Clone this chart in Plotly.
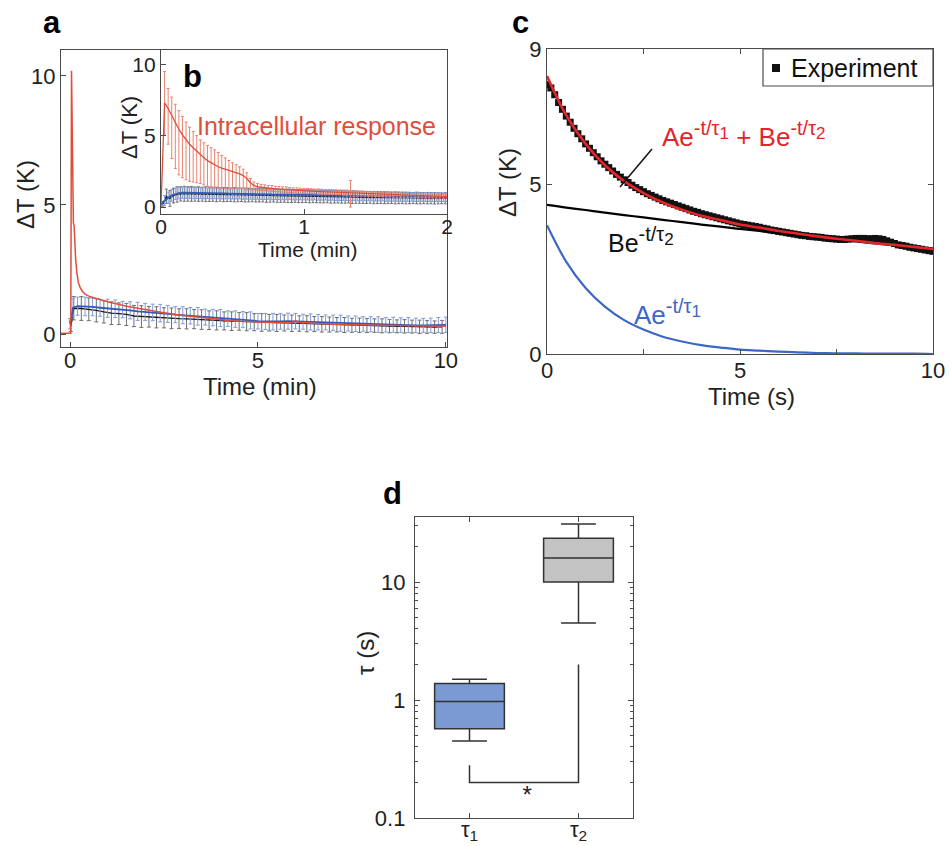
import numpy as np
import plotly.graph_objects as go

FONT = "Liberation Sans, Arial, Helvetica, sans-serif"
W, H = 951, 846

# ---------------- panel a : full 10-min recording ----------------
red_a_t = [-0.24, 0.02, 0.04, 0.07, 0.09, 0.11, 0.13, 0.15, 0.18, 0.22,
           0.27, 0.33, 0.4, 0.5, 0.7, 1.0, 1.5, 2.0, 2.5, 3.0,
           3.5, 4.0, 4.5, 5.0, 5.5, 5.9, 6.0, 6.1, 6.5, 7.0,
           7.5, 8.0, 8.5, 9.0, 9.5, 10.0]
red_a_v = [0.03, 0.03, 10.2, 6.0, 4.3, 4.2, 3.4, 2.9, 2.4, 2.0,
           1.8, 1.65, 1.55, 1.47, 1.38, 1.25, 1.08, 0.95, 0.83, 0.72,
           0.63, 0.56, 0.50, 0.46, 0.44, 0.44, 0.52, 0.45, 0.41, 0.38,
           0.36, 0.35, 0.33, 0.32, 0.31, 0.30]

blue_a_t = [0.0, 0.08] + [round(v, 2) for v in np.arange(0.2, 10.01, 0.2)]
blue_a_v = [0.40, 1.02, 1.08, 1.07, 1.05, 1.02, 1.00, 0.98, 0.95, 0.92,
            0.88, 0.86, 0.84, 0.81, 0.78, 0.75, 0.73, 0.71, 0.69, 0.66,
            0.64, 0.62, 0.60, 0.58, 0.56, 0.53, 0.50, 0.49, 0.48, 0.49,
            0.50, 0.50, 0.48, 0.47, 0.46, 0.45, 0.44, 0.42, 0.41, 0.40,
            0.39, 0.38, 0.37, 0.36, 0.36, 0.35, 0.35, 0.34, 0.34, 0.34,
            0.35, 0.36]
blue_a_err = [0.20, 0.35, 0.35, 0.36, 0.34, 0.33, 0.35, 0.34, 0.32, 0.33,
              0.35, 0.33, 0.32, 0.34, 0.33, 0.31, 0.33, 0.32, 0.34, 0.31,
              0.32, 0.33, 0.30, 0.32, 0.31, 0.33, 0.30, 0.31, 0.32, 0.30,
              0.31, 0.30, 0.29, 0.31, 0.30, 0.29, 0.30, 0.31, 0.29, 0.30,
              0.28, 0.29, 0.30, 0.28, 0.29, 0.28, 0.29, 0.28, 0.27, 0.28,
              0.29, 0.30]

black_a_t = [0.02] + [round(v, 2) for v in np.arange(0.1, 9.95, 0.2)]
black_a_v = [0.30, 1.00, 0.99, 0.96, 0.92, 0.86, 0.81, 0.79, 0.76, 0.70,
             0.68, 0.67, 0.65, 0.63, 0.61, 0.60, 0.59, 0.58, 0.56, 0.54,
             0.53, 0.51, 0.50, 0.49, 0.48, 0.46, 0.45, 0.44, 0.43, 0.43,
             0.42, 0.41, 0.40, 0.39, 0.38, 0.37, 0.36, 0.35, 0.34, 0.34,
             0.33, 0.33, 0.32, 0.31, 0.30, 0.30, 0.29, 0.28, 0.28, 0.27,
             0.28]
black_a_err = [0.20, 0.45, 0.46, 0.44, 0.45, 0.43, 0.44, 0.42, 0.43, 0.41,
               0.42, 0.40, 0.41, 0.39, 0.40, 0.38, 0.39, 0.37, 0.38, 0.36,
               0.37, 0.35, 0.36, 0.34, 0.35, 0.33, 0.34, 0.32, 0.33, 0.31,
               0.32, 0.30, 0.31, 0.29, 0.30, 0.29, 0.28, 0.29, 0.27, 0.28,
               0.27, 0.26, 0.27, 0.26, 0.25, 0.26, 0.25, 0.26, 0.25, 0.24,
               0.25]

# ---------------- panel b : first two minutes ----------------
b_t = [round(v, 4) for v in np.arange(0.0, 2.0001, 0.025)]
red_b_v = [0.00, 7.30, 6.90, 6.40, 5.90, 5.45, 5.05, 4.70, 4.40, 4.15,
           3.90, 3.65, 3.45, 3.25, 3.10, 2.95, 2.82, 2.72, 2.64, 2.56,
           2.50, 2.42, 2.32, 2.20, 2.00, 1.70, 1.50, 1.42, 1.38, 1.35,
           1.32, 1.30, 1.27, 1.25, 1.23, 1.21, 1.19, 1.17, 1.15, 1.14,
           1.13, 1.12, 1.11, 1.10, 1.09, 1.08, 1.07, 1.06, 1.05, 1.04,
           1.03, 1.01, 0.99, 0.96, 0.95, 0.94, 0.93, 0.92, 0.91, 0.90,
           0.89, 0.88, 0.87, 0.86, 0.85, 0.84, 0.83, 0.83, 0.82, 0.81,
           0.80, 0.80, 0.79, 0.78, 0.77, 0.77, 0.76, 0.75, 0.75, 0.74,
           0.73]
red_b_up = [0.00, 2.20, 1.40, 1.30, 1.30, 1.30, 1.30, 1.25, 1.20, 1.15,
            1.10, 1.05, 1.05, 1.05, 1.05, 1.05, 1.00, 0.90, 0.80, 0.70,
            0.60, 0.55, 0.50, 0.45, 0.40, 0.30, 0.25, 0.22, 0.20, 0.20,
            0.19, 0.20, 0.18, 0.19, 0.18, 0.20, 0.18, 0.17, 0.19, 0.18,
            0.17, 0.18, 0.17, 0.16, 0.18, 0.17, 0.16, 0.17, 0.16, 0.17,
            0.16, 0.18, 0.20, 0.90, 0.20, 0.17, 0.16, 0.15, 0.16, 0.15,
            0.16, 0.15, 0.14, 0.15, 0.14, 0.15, 0.14, 0.15, 0.14, 0.13,
            0.14, 0.13, 0.14, 0.13, 0.14, 0.13, 0.12, 0.13, 0.12, 0.13,
            0.12]
red_b_dn = [0.00, 2.20, 2.50, 3.00, 3.20, 3.20, 3.00, 2.80, 2.60, 2.40,
            2.20, 2.00, 1.90, 1.80, 1.70, 1.60, 1.50, 1.40, 1.35, 1.30,
            1.20, 1.10, 1.00, 0.90, 0.80, 0.50, 0.30, 0.25, 0.22, 0.20,
            0.19, 0.20, 0.18, 0.19, 0.18, 0.20, 0.18, 0.17, 0.19, 0.18,
            0.17, 0.18, 0.17, 0.16, 0.18, 0.17, 0.16, 0.17, 0.16, 0.17,
            0.16, 0.18, 0.20, 0.96, 0.20, 0.17, 0.16, 0.15, 0.16, 0.15,
            0.16, 0.15, 0.14, 0.15, 0.14, 0.15, 0.14, 0.15, 0.14, 0.13,
            0.14, 0.13, 0.14, 0.13, 0.14, 0.13, 0.12, 0.13, 0.12, 0.13,
            0.12]
blue_b_v = [0.20, 0.45, 0.65, 0.82, 0.92, 0.98, 1.00, 1.00, 0.99, 0.98,
            0.98, 0.97, 0.97, 0.96, 0.96, 0.96, 0.95, 0.95, 0.95, 0.94,
            0.94, 0.93, 0.93, 0.92, 0.92, 0.91, 0.91, 0.90, 0.90, 0.89,
            0.89, 0.88, 0.88, 0.87, 0.87, 0.86, 0.86, 0.86, 0.85, 0.85,
            0.85, 0.84, 0.84, 0.83, 0.83, 0.82, 0.82, 0.81, 0.81, 0.80,
            0.80, 0.79, 0.79, 0.78, 0.78, 0.77, 0.77, 0.76, 0.76, 0.75,
            0.75, 0.74, 0.74, 0.73, 0.73, 0.72, 0.72, 0.72, 0.71, 0.71,
            0.71, 0.70, 0.70, 0.70, 0.70, 0.69, 0.69, 0.69, 0.69, 0.68,
            0.68]
blue_b_err = [0.20, 0.35, 0.40, 0.42, 0.40, 0.41, 0.39, 0.40, 0.38, 0.40,
              0.39, 0.38, 0.40, 0.37, 0.39, 0.38, 0.37, 0.39, 0.38, 0.36,
              0.38, 0.37, 0.36, 0.38, 0.37, 0.36, 0.37, 0.35, 0.37, 0.36,
              0.35, 0.37, 0.36, 0.35, 0.36, 0.35, 0.34, 0.36, 0.35, 0.34,
              0.35, 0.34, 0.35, 0.33, 0.35, 0.34, 0.33, 0.34, 0.33, 0.35,
              0.34, 0.33, 0.34, 0.33, 0.32, 0.34, 0.33, 0.32, 0.33, 0.32,
              0.33, 0.32, 0.31, 0.33, 0.32, 0.31, 0.32, 0.31, 0.32, 0.31,
              0.30, 0.31, 0.32, 0.30, 0.31, 0.30, 0.31, 0.30, 0.31, 0.30,
              0.30]
black_b_t = [round(v + 0.0125, 4) for v in b_t]
black_b_v = [0.20, 0.75, 0.60, 0.80, 0.88, 0.92, 0.93, 0.92, 0.92, 0.91,
             0.91, 0.90, 0.90, 0.89, 0.89, 0.88, 0.88, 0.87, 0.87, 0.86,
             0.86, 0.85, 0.85, 0.84, 0.84, 0.83, 0.83, 0.82, 0.82, 0.81,
             0.81, 0.80, 0.80, 0.79, 0.79, 0.78, 0.78, 0.77, 0.77, 0.76,
             0.76, 0.75, 0.75, 0.74, 0.74, 0.73, 0.73, 0.72, 0.72, 0.71,
             0.71, 0.70, 0.70, 0.69, 0.69, 0.68, 0.68, 0.67, 0.67, 0.66,
             0.66, 0.66, 0.65, 0.65, 0.65, 0.64, 0.64, 0.64, 0.63, 0.63,
             0.63, 0.63, 0.62, 0.62, 0.62, 0.62, 0.61, 0.61, 0.61, 0.61,
             0.60]
black_b_err = [0.20, 0.50, 0.55, 0.52, 0.54, 0.50, 0.53, 0.51, 0.52, 0.50,
               0.51, 0.49, 0.52, 0.50, 0.49, 0.51, 0.48, 0.50, 0.49, 0.47,
               0.50, 0.48, 0.47, 0.49, 0.48, 0.46, 0.48, 0.47, 0.46, 0.48,
               0.47, 0.45, 0.47, 0.46, 0.45, 0.47, 0.46, 0.44, 0.46, 0.45,
               0.44, 0.46, 0.45, 0.44, 0.45, 0.44, 0.43, 0.45, 0.44, 0.43,
               0.44, 0.43, 0.42, 0.44, 0.43, 0.42, 0.43, 0.42, 0.41, 0.43,
               0.42, 0.41, 0.42, 0.41, 0.40, 0.42, 0.41, 0.40, 0.41, 0.40,
               0.39, 0.41, 0.40, 0.39, 0.40, 0.39, 0.40, 0.39, 0.38, 0.39,
               0.38]

# ---------------- panel c : single-cell decay and its bi-exponential fit ----------------
exp_t = [round(v, 2) for v in np.arange(0.0, 10.001, 0.1)]
exp_v = [7.95, 7.85, 7.65, 7.42, 7.22, 7.02, 6.84, 6.66, 6.50, 6.35,
         6.20, 6.07, 5.94, 5.82, 5.70, 5.60, 5.50, 5.40, 5.30, 5.22,
         5.14, 5.06, 4.98, 4.91, 4.85, 4.79, 4.73, 4.68, 4.63, 4.58,
         4.53, 4.49, 4.45, 4.41, 4.37, 4.33, 4.29, 4.25, 4.21, 4.18,
         4.14, 4.11, 4.08, 4.05, 4.02, 3.99, 3.96, 3.93, 3.90, 3.87,
         3.84, 3.82, 3.80, 3.78, 3.76, 3.74, 3.71, 3.69, 3.66, 3.64,
         3.62, 3.60, 3.58, 3.56, 3.54, 3.52, 3.50, 3.49, 3.47, 3.46,
         3.45, 3.44, 3.42, 3.41, 3.40, 3.39, 3.38, 3.38, 3.39, 3.40,
         3.41, 3.41, 3.41, 3.40, 3.40, 3.41, 3.40, 3.38, 3.34, 3.30,
         3.26, 3.22, 3.20, 3.18, 3.15, 3.13, 3.11, 3.09, 3.07, 3.05,
         3.03]
fit_t = [0.0, 0.5, 1.0, 1.5, 2.0, 2.5, 3.0, 3.5, 4.0, 4.5, 5.0,
         5.5, 6.0, 6.5, 7.0, 7.5, 8.0, 8.5, 9.0, 9.5, 10.0]
fit_sum = [8.20, 7.04, 6.20, 5.57, 5.10, 4.75, 4.47, 4.26, 4.08, 3.95, 3.82,
           3.73, 3.63, 3.55, 3.47, 3.40, 3.34, 3.27, 3.22, 3.16, 3.10]
fit_slow = [4.40, 4.32, 4.25, 4.17, 4.10, 4.03, 3.96, 3.89, 3.82, 3.76, 3.69,
            3.63, 3.56, 3.50, 3.44, 3.38, 3.32, 3.26, 3.21, 3.15, 3.10]
fit_fast = [3.80, 2.72, 1.95, 1.40, 1.00, 0.72, 0.51, 0.37, 0.26, 0.19, 0.13,
            0.10, 0.07, 0.05, 0.03, 0.02, 0.02, 0.01, 0.01, 0.01, 0.00]

# ---------------- panel d : time constants ----------------
tau_ticks = ["τ<sub>1</sub>", "τ<sub>2</sub>"]
tau_q1 = [0.57, 10.0]
tau_median = [0.97, 16.0]
tau_q3 = [1.38, 23.5]
tau_low = [0.45, 4.5]
tau_high = [1.50, 31.0]
tau_fill = ["#7b9ad3", "#c3c3c3"]
sig_x = [0, 0, 1, 1]
sig_y = [0.28, 0.2, 0.2, 2.0]

RED = "#de4f3b"
RED_ERR = "#e8836f"
BLUE = "#3459b8"
BLUE_ERR = "#7e9ce0"
BLACK = "#1c1c1c"
GRAY_ERR = "#6e6e6e"
FIT_RED = "#e3252b"
FIT_BLUE = "#3d67c7"
AX = "#4a4a4a"


def px(x):
    return x / W


def py(y):
    return 1 - y / H


fig = go.Figure()

# panel a traces
fig.add_trace(go.Scatter(x=black_a_t, y=black_a_v, xaxis="x", yaxis="y", mode="lines",
                         line=dict(color=BLACK, width=1.3),
                         error_y=dict(type="data", array=black_a_err, color=GRAY_ERR,
                                      thickness=1, width=2)))
fig.add_trace(go.Scatter(x=blue_a_t, y=blue_a_v, xaxis="x", yaxis="y", mode="lines",
                         line=dict(color=BLUE, width=1.8),
                         error_y=dict(type="data", array=blue_a_err, color=BLUE_ERR,
                                      thickness=1, width=2)))
fig.add_trace(go.Scatter(x=red_a_t, y=red_a_v, xaxis="x", yaxis="y", mode="lines",
                         line=dict(color=RED, width=1.5)))

# panel b traces
fig.add_trace(go.Scatter(x=black_b_t, y=black_b_v, xaxis="x2", yaxis="y2", mode="lines",
                         line=dict(color=BLACK, width=1.2),
                         error_y=dict(type="data", array=black_b_err, color=GRAY_ERR,
                                      thickness=1, width=1.5)))
fig.add_trace(go.Scatter(x=b_t, y=blue_b_v, xaxis="x2", yaxis="y2", mode="lines",
                         line=dict(color=BLUE, width=1.8),
                         error_y=dict(type="data", array=blue_b_err, color=BLUE_ERR,
                                      thickness=1, width=1.5)))
fig.add_trace(go.Scatter(x=b_t, y=red_b_v, xaxis="x2", yaxis="y2", mode="lines",
                         line=dict(color=RED, width=1.3),
                         error_y=dict(type="data", symmetric=False, array=red_b_up,
                                      arrayminus=red_b_dn, color=RED_ERR,
                                      thickness=1, width=1.5)))

# panel c traces
fig.add_trace(go.Scatter(x=exp_t, y=exp_v, xaxis="x3", yaxis="y3", mode="markers",
                         name="Experiment",
                         marker=dict(symbol="square", size=7, color="#111111")))
fig.add_trace(go.Scatter(x=fit_t, y=fit_slow, xaxis="x3", yaxis="y3", mode="lines",
                         line=dict(color="#000000", width=2.2, shape="spline")))
fig.add_trace(go.Scatter(x=fit_t, y=fit_fast, xaxis="x3", yaxis="y3", mode="lines",
                         line=dict(color=FIT_BLUE, width=2.2, shape="spline")))
fig.add_trace(go.Scatter(x=fit_t, y=fit_sum, xaxis="x3", yaxis="y3", mode="lines",
                         line=dict(color=FIT_RED, width=2.6, shape="spline")))

# panel d traces
for i in range(2):
    fig.add_trace(go.Box(x=[i], q1=[tau_q1[i]], median=[tau_median[i]], q3=[tau_q3[i]],
                         lowerfence=[tau_low[i]], upperfence=[tau_high[i]],
                         xaxis="x4", yaxis="y4", width=0.64, whiskerwidth=0.5,
                         fillcolor=tau_fill[i], line=dict(color="#333333", width=1.5),
                         boxpoints=False, hoverinfo="skip"))
fig.add_trace(go.Scatter(x=sig_x, y=sig_y, xaxis="x4", yaxis="y4", mode="lines",
                         line=dict(color="#333333", width=1.5)))
fig.add_trace(go.Scatter(x=[0.53], y=[0.15], xaxis="x4", yaxis="y4", mode="text",
                         text=["*"], textfont=dict(size=24, color="#222222", family=FONT)))


def axis_style(size=22, standoff=0):
    return dict(showline=True, linecolor=AX, linewidth=1.3, ticks="inside",
                tickcolor=AX, ticklen=5, showgrid=False, zeroline=False,
                automargin=False, ticklabelstandoff=standoff,
                tickfont=dict(family=FONT, size=size, color="#222222"))


fig.update_layout(
    template="none",
    width=W, height=H, autosize=False,
    margin=dict(l=0, r=0, t=0, b=0, pad=0),
    paper_bgcolor="white", plot_bgcolor="white",
    font=dict(family=FONT, color="#222222"),
    showlegend=False,
    xaxis=dict(domain=[px(61), px(447)], range=[-0.24, 10.03], anchor="y",
               tickvals=[0, 5, 10], mirror=True, **axis_style(22, -7)),
    yaxis=dict(domain=[py(347), py(50)], range=[-0.5, 11.0], anchor="x",
               tickvals=[0, 5, 10], mirror=True, **axis_style(22, 0)),
    xaxis2=dict(domain=[px(161), px(447)], range=[0, 2.0], anchor="y2",
                tickvals=[0, 1, 2], mirror=True, **axis_style(21, -6)),
    yaxis2=dict(domain=[py(214), py(50)], range=[-0.49, 11.0], anchor="x2",
                tickvals=[0, 5, 10], mirror=True, **axis_style(21, 0)),
    xaxis3=dict(domain=[px(547), px(933)], range=[0, 10], anchor="y3",
                tickvals=[0, 2.5, 5, 7.5, 10], ticktext=["0", "", "5", "", "10"],
                mirror="ticks", **axis_style(22, -4)),
    yaxis3=dict(domain=[py(354), py(49)], range=[0, 9], anchor="x3",
                tickvals=[0, 5, 9], mirror="ticks", **axis_style(22, 0)),
    xaxis4=dict(domain=[px(415), px(633)], range=[-0.5, 1.5], anchor="y4",
                tickvals=[0, 1], ticktext=tau_ticks, mirror="ticks", **axis_style(22, -9)),
    yaxis4=dict(domain=[py(818), py(517)], range=[-1, 1.551], type="log", anchor="x4",
                tickvals=[0.1, 1, 10], ticktext=["0.1", "1", "10"], mirror="ticks",
                minor=dict(ticks="inside", ticklen=3, tickcolor=AX,
                           tickvals=[0.2, 0.3, 0.4, 0.5, 0.6, 0.7, 0.8, 0.9,
                                     2, 3, 4, 5, 6, 7, 8, 9, 20, 30]),
                **axis_style(22, 4)),
)

ann = []


def text_at(x, y, s, size, color="#222222", angle=0, bold=False, anchor="center"):
    ann.append(dict(x=px(x), y=py(y), xref="paper", yref="paper", text=s, showarrow=False,
                    xanchor=anchor, yanchor="middle", textangle=angle,
                    font=dict(family=FONT, size=size, color=color,
                              weight="bold" if bold else "normal")))


def expo(letter, idx):
    return (letter + "e<sup><span style='font-size:20px'>-t/τ</span>"
            "<sub><span style='font-size:17px'>" + idx + "</span></sub></sup>")


# panel letters
text_at(52, 22, "a", 31, "#000000", bold=True)
text_at(192, 76, "b", 31, "#000000", bold=True)
text_at(520, 22, "c", 31, "#000000", bold=True)
text_at(392, 493, "d", 31, "#000000", bold=True)

# axis titles
text_at(260, 386, "Time (min)", 24)
text_at(25, 195, "ΔT (K)", 24, angle=-90)
text_at(308, 250, "Time (min)", 21)
text_at(129, 128, "ΔT (K)", 22, angle=-90)
text_at(751, 396, "Time (s)", 24)
text_at(507, 183, "ΔT (K)", 24, angle=-90)
text_at(365, 653, "τ (s)", 24, angle=-90)

# in-plot labels
text_at(316, 126, "Intracellular response", 25, RED)
text_at(744, 135, expo("A", "1") + " + " + expo("B", "2"), 26, FIT_RED)
text_at(641, 240, expo("B", "2"), 25, "#111111")
text_at(667, 312, expo("A", "1"), 26, FIT_BLUE)

# legend box for the measured points in panel c
fig.add_shape(type="rect", xref="paper", yref="paper",
              x0=px(763), x1=px(933), y0=py(86), y1=py(49),
              line=dict(color=AX, width=1.2), fillcolor="white", layer="above")
fig.add_shape(type="rect", xref="paper", yref="paper",
              x0=px(772), x1=px(780), y0=py(72), y1=py(64),
              line=dict(width=0), fillcolor="#111111", layer="above")
text_at(789, 68, "Experiment", 25, "#111111", anchor="left")

fig.update_layout(annotations=ann)

# leader line from the fit label to the curve
fig.add_shape(type="line", xref="paper", yref="paper",
              x0=px(652), y0=py(149), x1=px(620), y1=py(187),
              line=dict(color="#111111", width=1.5))

fig.write_html("out.html")
